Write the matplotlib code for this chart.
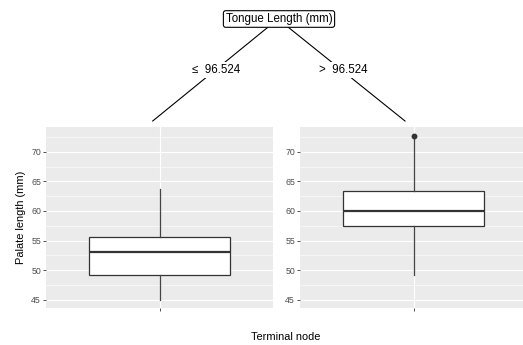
import matplotlib.pyplot as plt

plt.rcParams['font.family'] = ['Liberation Sans', 'DejaVu Sans']

# split info
split_var = "Tongue Length (mm)"
split_value = 96.524
edge_labels = ["\u2264  96.524", ">  96.524"]

# terminal node boxplot stats (palate length, mm)
node_q1 = [49.1, 57.4]
node_med = [53.05, 60.0]
node_q3 = [55.6, 63.45]
node_lo = [45.0, 49.2]
node_hi = [63.65, 72.3]
node_fliers = [[], [72.75]]

yticks = [45, 50, 55, 60, 65, 70]
ylim = (43.6, 74.2)

W, H = 523, 345
fig = plt.figure(figsize=(W / 100, H / 100), dpi=100)

BG = "#EBEBEB"
panels = [(46, 273), (300, 527)]
top, bot = 127, 308

for i, (x0, x1) in enumerate(panels):
    ax = fig.add_axes([x0 / W, (H - bot) / H, (x1 - x0) / W, (bot - top) / H])
    ax.set_facecolor(BG)
    for s in ax.spines.values():
        s.set_visible(False)
    stats = [dict(med=node_med[i], q1=node_q1[i], q3=node_q3[i],
                  whislo=node_lo[i], whishi=node_hi[i], fliers=node_fliers[i])]
    ax.bxp(stats, positions=[1], widths=0.75, patch_artist=True, showcaps=False,
           boxprops=dict(facecolor="white", edgecolor="#333333", lw=0.9),
           medianprops=dict(color="#333333", lw=1.6),
           whiskerprops=dict(color="#444444", lw=0.9),
           flierprops=dict(marker="o", markerfacecolor="#333333",
                           markeredgecolor="#333333", markersize=3.2))
    ax.set_xlim(0.4, 1.6)
    ax.set_ylim(*ylim)
    ax.set_yticks(yticks)
    ax.set_yticks([47.5, 52.5, 57.5, 62.5, 67.5, 72.5], minor=True)
    ax.set_xticks([1])
    ax.set_xticklabels([""])
    ax.grid(True, which="major", color="white", lw=0.8)
    ax.grid(True, which="minor", axis="y", color="white", lw=0.4)
    ax.set_axisbelow(True)
    ax.tick_params(which="major", length=2.0, width=0.6, color="#333333",
                   labelsize=6.3, labelcolor="#4D4D4D", pad=1.6)
    ax.tick_params(which="minor", length=0)
    if i == 0:
        ax.set_ylabel("Palate length (mm)", fontsize=7.9, labelpad=4)

fig.text(286 / W, 1 - 337 / H, "Terminal node", fontsize=7.9,
         ha="center", va="center")

# tree overlay in pixel coordinates
tr = fig.add_axes([0, 0, 1, 1], facecolor="none")
tr.set_xlim(0, W)
tr.set_ylim(H, 0)
tr.axis("off")

root = (278, 19)
leaves = [(152.7, 121), (405, 121)]
label_pos = [(216.5, 70), (343, 70)]

for (lx, ly), (tx, ty), lab in zip(leaves, label_pos, edge_labels):
    tr.plot([root[0], lx], [root[1], ly], color="black", lw=0.8, zorder=1)
    tr.text(tx, ty, lab, fontsize=8.3, ha="center", va="center",
            bbox=dict(boxstyle="square,pad=0.2", fc="white", ec="none"), zorder=2)

tr.text(root[0] + 1, root[1], split_var, fontsize=8.3, ha="center", va="center",
        bbox=dict(boxstyle="round,pad=0.2,rounding_size=0.2", fc="white",
                  ec="black", lw=0.8), zorder=3)

fig.savefig("out.png", dpi=100)
